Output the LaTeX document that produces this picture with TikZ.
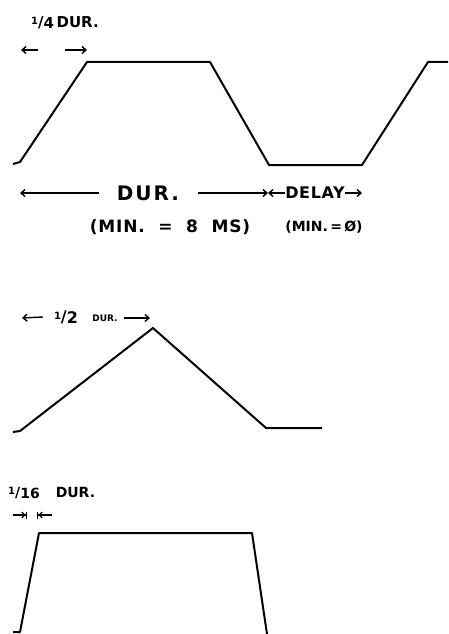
\documentclass[tikz,border=0pt]{standalone}
\usepackage{fontspec}
\setmainfont{DejaVu Sans}
\usetikzlibrary{arrows.meta}
\tikzset{
  wave/.style={line width=2pt, line join=round},
  dim/.style={line width=1.4pt, -{Straight Barb[length=4pt,width=7pt]}},
  stopdim/.style={line width=1.3pt, -{Straight Barb[length=3pt,width=6pt,sep=0pt]Bar[width=7pt]}},
  txt/.style={inner sep=0pt, font=\bfseries\fontsize{#1}{#1}\selectfont},
}
\newcommand{\frc}[2]{{\fontsize{10}{10}\selectfont\raisebox{3pt}{#1}}/{\raisebox{-1pt}{#2}}}
\newcommand{\spaced}[2]{{\addfontfeature{LetterSpace=#1}#2}}

\begin{document}
\begin{tikzpicture}[x=1pt,y=-1pt]
\useasboundingbox (0,0) rectangle (448,634);
% trapezoid pulse
\draw[wave] (13,164) -- (20,162) -- (87,62) -- (210,62) -- (269,165) -- (362,165) -- (428,62) -- (448,62);
\node[txt=15, anchor=west] (quarter) at (31,23) {\frc{1}{4}\,DUR.};
\coordinate (qa) at (38,50);
\coordinate (qb) at (65,50);
\draw[dim] (qa) -- (21,50);
\draw[dim] (qb) -- (87,50);
\node[txt=20] (dur) at (148,193) {\spaced{10}{DUR.}};
\coordinate (durL) at (20,193);
\coordinate (durR) at (268,193);
\draw[dim] ([xshift=-18pt]dur.west) -- (durL);
\draw[dim] ([xshift=19pt]dur.east) -- (durR);
\node[txt=16] (delay) at (315,193) {\spaced{4}{DELAY}};
\coordinate (dlL) at (268,193);
\coordinate (dlR) at (362,193);
\draw[dim] (delay.west) -- (dlL);
\draw[dim] (delay.east) -- (dlR);
\node[txt=17] (minA) at (170,227) {\spaced{5}{(MIN.\ \ =\ \ 8\ \ MS)}};
\node[txt=14] (minB) at (324,227) {(MIN.\,=\,Ø)};
% triangle pulse
\draw[wave] (13,432) -- (20,431) -- (153,328) -- (266,428) -- (322,428);
\node[txt=16] (half) at (66,317) {\frc{1}{2}};
\node[txt=9] (hdur) at (105,318) {DUR.};
\coordinate (hL) at (22,318);
\coordinate (hR) at (150,318);
\draw[dim] ([xshift=-11pt]half.west) -- (hL);
\draw[dim] ([xshift=6pt]hdur.east) -- (hR);
% steep pulse
\draw[wave] (13,632) -- (20,632) -- (39,533) -- (252,533) -- (267,634);
\node[txt=14, anchor=west] (sixteenth) at (8,493) {\frc{1}{16}\hspace{16pt}DUR.};
\coordinate (sa) at (13,515);
\coordinate (sb) at (27,515);
\coordinate (sc) at (37,515);
\coordinate (sd) at (52,515);
\draw[stopdim] (sa) -- (sb);
\draw[stopdim] (sd) -- (sc);
\end{tikzpicture}
\end{document}
